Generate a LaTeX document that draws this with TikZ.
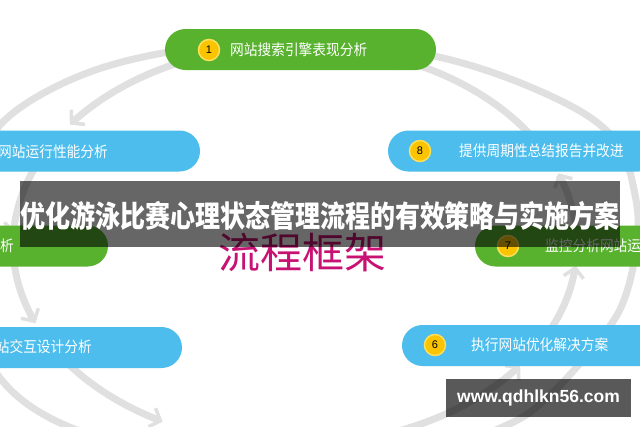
\documentclass[tikz,border=0pt]{standalone}
\usepackage{fontspec}
\usepackage{graphicx}
\usepackage{xcolor}
\usepackage{tikz}
\usetikzlibrary{arrows.meta}
\newfontfamily\cjk{Noto Sans CJK SC}
\newfontfamily\numfont{Liberation Sans}
\definecolor{pillgreen}{RGB}{88,178,46}
\definecolor{pillblue}{RGB}{76,189,236}
\definecolor{bandgray}{RGB}{224,224,224}
\definecolor{numyellow}{RGB}{250,196,0}
\definecolor{numring}{RGB}{255,222,90}
\definecolor{framemagenta}{RGB}{200,18,115}
\newcommand{\tallstr}[2]{\scalebox{1}[#1]{#2}}
\tikzset{
  pill/.style={rectangle, rounded corners=20.5pt, minimum width=271pt, minimum height=41pt, inner sep=0pt},
  greenpill/.style={pill, fill=pillgreen},
  bluepill/.style={pill, fill=pillblue},
  numdot/.style={circle, fill=numyellow, draw=numring, line width=1.5pt, minimum size=21pt, inner sep=0pt, font=\numfont\fontsize{11}{11}\selectfont},
  pilltext/.style={inner sep=0pt, text=white, font=\cjk\fontsize{13.7}{14}\selectfont},
  band/.style={draw=bandgray, line width=7pt},
  bandarrow/.style={band, -{Straight Barb[line width=3.5pt, length=9pt, width=20pt]}}
}
\begin{document}
\begin{tikzpicture}[x=1pt,y=-1pt]
\useasboundingbox (0,0) rectangle (640,426);
\clip (0,0) rectangle (640,426);
\fill[white] (0,0) rectangle (640,426);
\draw[band] plot[smooth cycle, tension=0.6] coordinates {(300,38) (443,58) (555,98) (615,140) (636,200) (636,250) (622,305) (595,345) (550,395) (505,426) (400,462) (300,472) (190,460) (67,426) (0,378) (-25,310) (-28,250) (-20,180) (0,125) (70,80) (163,53)};
\draw[bandarrow] plot[domain=250:217, samples=30] ({295+282*cos(\x)},{245+200*sin(\x)});
\draw[bandarrow] plot[domain=205:183, samples=30] ({295+282*cos(\x)},{245+200*sin(\x)});
\draw[bandarrow] plot[domain=177:157, samples=30] ({295+282*cos(\x)},{245+200*sin(\x)});
\draw[bandarrow] plot[domain=145:118, samples=30] ({295+282*cos(\x)},{245+200*sin(\x)});
\draw[bandarrow] plot[domain=70:37, samples=30] ({295+282*cos(\x)},{245+200*sin(\x)});
\draw[bandarrow] plot[domain=25:6, samples=30] ({295+282*cos(\x)},{245+200*sin(\x)});
\draw[bandarrow] plot[domain=-5:-21, samples=30] ({295+282*cos(\x)},{245+200*sin(\x)});
\draw[bandarrow] plot[domain=-30:-70, samples=30] ({295+282*cos(\x)},{245+200*sin(\x)});

\node[greenpill] (p1) at (300.5,49.5) {};
\node[bluepill] (p2) at (64.5,151) {};
\node[greenpill] (p3) at (-27.5,246) {};
\node[bluepill] (p4) at (46.5,347.5) {};
\node[bluepill] (p6) at (537.5,345.5) {};
\node[greenpill] (p7) at (610.5,246) {};
\node[bluepill] (p8) at (523.5,151) {};

\node[numdot] (n1) at (209,50) {1};
\node[numdot] (n8) at (420,151) {8};
\node[numdot] (n7) at (508,246) {7};
\node[numdot] (n6) at (435,345) {6};

\node[pilltext, anchor=west] (t1) at (230,50) {\tallstr{1.1}{网站搜索引擎表现分析}};
\node[pilltext, anchor=east] (t2) at (108,152) {\tallstr{1.1}{网站运行性能分析}};
\node[pilltext, anchor=east] (t3) at (14,246) {\tallstr{1.1}{析}};
\node[pilltext, anchor=east] (t4) at (92,347) {\tallstr{1.1}{站交互设计分析}};
\node[pilltext, anchor=west] (t6) at (471,345) {\tallstr{1.1}{执行网站优化解决方案}};
\node[pilltext, anchor=west] (t7) at (545,246) {\tallstr{1.1}{监控分析网站运}};
\node[pilltext, anchor=west] (t8) at (459,151) {\tallstr{1.1}{提供周期性总结报告并改进}};

\node[inner sep=0pt, text=framemagenta, font=\cjk\fontsize{42}{42}\selectfont] (frame) at (302,253) {流程框架};

\node[fill=black, fill opacity=0.6, minimum width=600pt, minimum height=66pt, inner sep=0pt] (banner) at (320,214) {};
\node[inner sep=0pt, text=white, font=\cjk\bfseries\fontsize{25}{25}\selectfont] (title) at (320,216) {\tallstr{1.2}{优化游泳比赛心理状态管理流程的有效策略与实施方案}};

\node[fill=black, fill opacity=0.65, minimum width=185pt, minimum height=38pt, inner sep=0pt] (wmbox) at (538.5,398) {};
\node[inner sep=0pt, text=white, font=\numfont\bfseries\fontsize{17.5}{18}\selectfont] (wm) at (wmbox) {www.qdhlkn56.com};
\end{tikzpicture}
\end{document}
